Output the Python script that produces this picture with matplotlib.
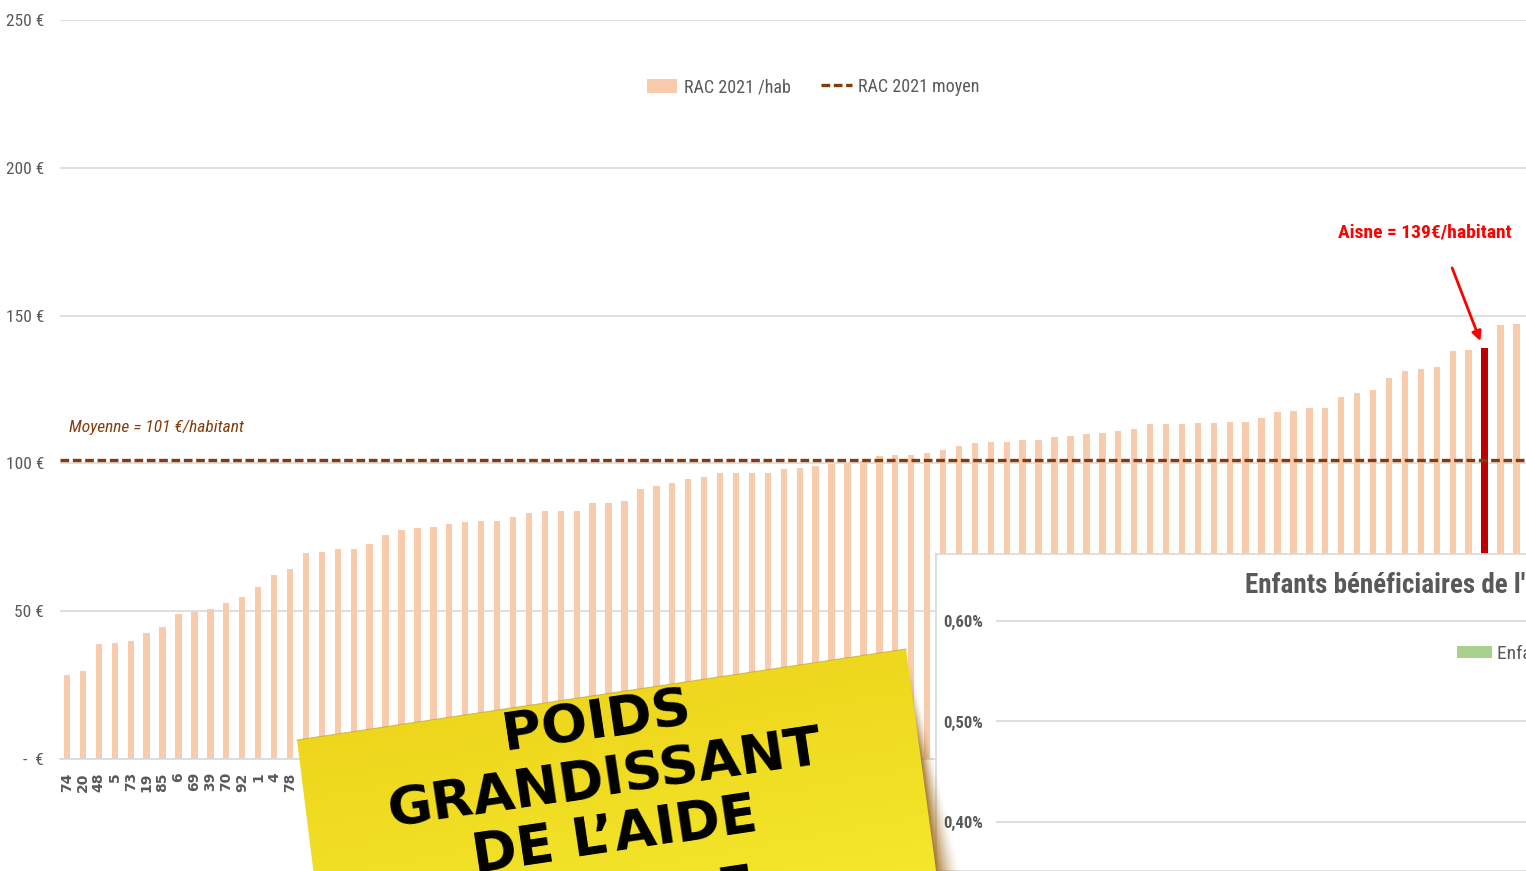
import numpy as np
import matplotlib
matplotlib.use("Agg")
import matplotlib.pyplot as plt
from matplotlib import font_manager
from matplotlib.patches import Patch, Polygon

# RAC 2021 par habitant, départements triés
rac_values = [28.4, 29.8, 38.9, 39.3, 39.9, 42.7, 44.5, 48.9, 49.8, 50.8,
              52.8, 54.7, 58.1, 62.3, 64.2, 69.6, 69.9, 70.9, 70.9, 72.7,
              75.7, 77.6, 78.0, 78.6, 79.5, 80.1, 80.4, 80.4, 81.9, 83.3,
              83.8, 83.8, 83.8, 86.7, 86.7, 87.2, 91.4, 92.4, 93.3, 94.8,
              95.3, 96.7, 96.7, 96.7, 96.7, 98.2, 98.6, 99.2, 99.7, 100.2,
              100.7, 102.5, 103.0, 103.0, 103.5, 104.5, 106.0, 107.0, 107.4, 107.4,
              107.9, 107.9, 108.9, 109.3, 109.9, 110.2, 110.8, 111.7, 113.2, 113.2,
              113.2, 113.6, 113.6, 114.1, 114.1, 115.4, 117.3, 117.8, 118.8, 118.8,
              122.5, 123.7, 125.0, 128.8, 131.2, 132.1, 132.7, 138.0, 138.4, 139.0,
              146.7, 147.1]
# only the first labels are readable, the rest is hidden under the overlays
dept_labels = ["74", "20", "48", "5", "73", "19", "85", "6", "69", "39",
               "70", "92", "1", "4", "78"] + [""] * (len(rac_values) - 15)
mean_value = 101
aisne_idx = 89
y_ticks = [0, 50, 100, 150, 200, 250]
y_tick_labels = ["-  €", "50 €", "100 €", "150 €", "200 €", "250 €"]

inset_ticks = [0.40, 0.50, 0.60]
inset_tick_labels = ["0,40%", "0,50%", "0,60%"]

note_lines = ["POIDS", "GRANDISSANT", "DE L’AIDE", "SOCIALE"]

PEACH = "#F8CBAD"
BROWN = "#843C0C"
GRID = "#D9D9D9"
GREY = "#595959"

# pick a narrow font if one is installed, otherwise Roboto at a smaller size
fonts = font_manager.fontManager.ttflist
names = {f.name for f in fonts}
NARROW, STRETCH, K = "Roboto", "normal", 0.86
for cand in ["Liberation Sans Narrow", "Roboto Condensed", "Open Sans Condensed",
             "Noto Sans Condensed", "DejaVu Sans Condensed"]:
    if cand in names:
        NARROW, K = cand, 1.0
        break
else:
    for f in fonts:
        if f.name in ("Noto Sans", "Open Sans", "DejaVu Sans") and f.stretch in (
                "condensed", "semi-condensed", 87.5, 75):
            NARROW, STRETCH, K = f.name, f.stretch, 1.0
            break
FONT = dict(family=NARROW, stretch=STRETCH)

W, H = 1526, 871
fig = plt.figure(figsize=(W / 100, H / 100), dpi=100)
fig.patch.set_facecolor("white")

# main chart
ax = fig.add_axes([60 / W, 1 - 759 / H, (W - 60) / W, (759 - 20) / H], zorder=0)
x = np.arange(len(rac_values))
colors = [PEACH] * len(rac_values)
colors[aisne_idx] = "#C00000"
ax.bar(x, rac_values, width=0.4, color=colors, label="RAC 2021 /hab", zorder=2)
ax.axhline(mean_value, color=BROWN, lw=2.4, dashes=(2.6, 1.1), zorder=3,
           label="RAC 2021 moyen")

ax.set_ylim(0, 250)
ax.set_xlim(-0.44, 91.6)
ax.set_yticks(y_ticks)
ax.set_yticklabels(y_tick_labels, fontsize=12.5 * K, color=GREY, **FONT)
ax.set_xticks(x)
ax.set_xticklabels(dept_labels, rotation=90, fontsize=10, fontweight="bold",
                   color=GREY, va="top")
ax.tick_params(axis="both", length=0)
ax.tick_params(axis="y", pad=11.5)
ax.tick_params(axis="x", pad=9.5)
ax.grid(axis="y", color=GRID, lw=1.2, zorder=0)
for s in ["top", "right", "left"]:
    ax.spines[s].set_visible(False)
ax.spines["bottom"].set_color(GRID)
ax.spines["bottom"].set_linewidth(1.2)

handles, labels = ax.get_legend_handles_labels()
order = [labels.index("RAC 2021 /hab"), labels.index("RAC 2021 moyen")]
ax.legend([handles[i] for i in order], [labels[i] for i in order],
          loc="center", bbox_to_anchor=(813 / W, 1 - 87 / H),
          bbox_transform=fig.transFigure, ncol=2, frameon=False,
          prop=dict(size=13 * K, **FONT), labelcolor=GREY,
          handlelength=1.7, handleheight=0.8, handletextpad=0.35,
          columnspacing=1.7)

ax.text(0.1, mean_value + 11, "Moyenne = 101 €/habitant", style="italic",
        fontsize=12.5 * K, color=BROWN, ha="left", va="center", **FONT)

aisne_val = rac_values[aisne_idx]
ax.text(aisne_idx + 1.7, 178, "Aisne = 139€/habitant", fontsize=14 * K,
        fontweight="bold", color="#FF0000", ha="right", va="center", **FONT)
ax.annotate("", xy=(aisne_idx - 0.2, aisne_val + 1.5),
            xytext=(aisne_idx - 2.1, aisne_val + 28),
            arrowprops=dict(arrowstyle="-|>", color="#FF0000", lw=2,
                            mutation_scale=14))

# inset chart (partially visible)
frame = fig.add_axes([936 / W, 0, (W - 936) / W + 0.01, (H - 554) / H], zorder=2)
frame.set_xticks([])
frame.set_yticks([])
for s in frame.spines.values():
    s.set_color(GRID)
    s.set_linewidth(1.2)

ax2 = fig.add_axes([996 / W, 0, (W - 996) / W, (H - 600) / H], zorder=3)
ax2.patch.set_alpha(0)
ax2.set_ylim(0.40 - 0.1 * 49 / 100.5, 0.60 + 0.1 * 21 / 100.5)
ax2.set_yticks(inset_ticks)
ax2.set_yticklabels(inset_tick_labels, fontsize=12 * K, fontweight="bold",
                    color=GREY, **FONT)
ax2.set_xticks([])
ax2.tick_params(axis="y", length=0, pad=9.5)
ax2.grid(axis="y", color=GRID, lw=1.2)
for s in ax2.spines.values():
    s.set_visible(False)
fig.text(1245 / W, 1 - 585 / H, "Enfants bénéficiaires de l'aide sociale",
         fontsize=19.5 * K, fontweight="bold", color=GREY,
         ha="left", va="center", zorder=4, **FONT)
ax2.legend(handles=[Patch(facecolor="#A9D18E")], labels=["Enfants bénéficiaires"],
           loc="center left", bbox_to_anchor=(1447 / W, 1 - 654 / H),
           bbox_transform=fig.transFigure, frameon=False, borderpad=0,
           prop=dict(size=14 * K, **FONT), labelcolor=GREY,
           handlelength=1.8, handleheight=0.6, handletextpad=0.25)

# yellow sticky note on top
ov = fig.add_axes([0, 0, 1, 1], zorder=5)
ov.patch.set_alpha(0)
ov.axis("off")

# shadow along the right edge
sx0, sx1, sy0, sy1 = 880, 990, 640, 900
gx, gy = np.meshgrid(np.arange(sx0, sx1) + 0.5, np.arange(sy0, sy1) + 0.5)
d = ((gx - 906) * 251 - (gy - 649) * 34) / np.hypot(251, 34)
wid = 3 + 24 * np.clip((gy - 660) / 230, 0, 1)
strength = 0.9 * np.clip((gy - 665) / 90, 0, 1)
alpha = np.where(d < 0, 1.0, np.clip(1 - d / wid, 0, 1) ** 1.6) * strength
shadow = np.zeros(gx.shape + (4,))
shadow[..., 0] = 0.62
shadow[..., 1] = 0.42
shadow[..., 2] = 0.12
shadow[..., 3] = alpha
ov.imshow(shadow, extent=(sx0, sx1, sy1, sy0), aspect="auto", zorder=1,
          interpolation="bilinear")

note_pts = [(297, 740), (906, 649), (940, 900), (317, 900)]
note = Polygon(note_pts, closed=True, facecolor="none", edgecolor="none", zorder=2)
ov.add_patch(note)
t = np.linspace(0, 1, 64)
tx, ty = np.meshgrid(t, t)
mix = np.clip(0.35 * tx + 0.75 * ty, 0, 1)[..., None]
c0 = np.array([0.925, 0.815, 0.09])
c1 = np.array([0.955, 0.905, 0.17])
grad = c0 * (1 - mix) + c1 * mix
im = ov.imshow(grad, extent=(297, 940, 900, 649), aspect="auto", zorder=2,
               interpolation="bilinear")
im.set_clip_path(note)
ov.plot([297, 906], [740, 649], color="#B8A030", lw=0.8, alpha=0.6, zorder=3)

centers = [(597, 722), (605, 780), (615, 836), (628, 905)]
for (cx, cy), line in zip(centers, note_lines):
    ov.text(cx, cy, line, rotation=8.5, rotation_mode="anchor", ha="center",
            va="center", fontsize=39, fontweight="bold", family="DejaVu Sans",
            color="black", zorder=4)

ov.set_xlim(0, W)
ov.set_ylim(H, 0)

fig.savefig("out.png", dpi=100)
